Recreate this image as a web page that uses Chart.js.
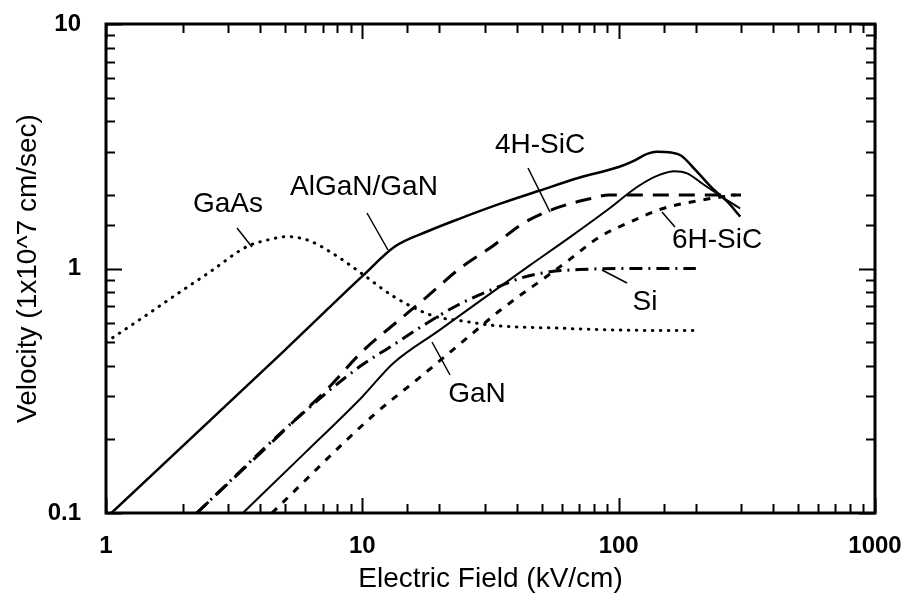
<!DOCTYPE html>
<html>
<head>
<meta charset="utf-8">
<script src="https://cdn.jsdelivr.net/npm/chart.js@4/dist/chart.umd.min.js"></script>
<style>
  html, body { margin: 0; padding: 0; background: #fff; }
  #wrap { width: 903px; height: 596px; }
</style>
</head>
<body>
<div id="wrap"><canvas id="c" width="903" height="596"></canvas></div>
<script>
// ---- data (Electric field kV/cm, velocity 1e7 cm/s) ----
const xTickLabels = [1, 10, 100, 1000];
const yTickLabels = [0.1, 1, 10];

const algan_x = [1.05, 5, 10, 13.4, 18, 24, 35, 49, 70, 100, 114, 130, 141, 160, 175, 200, 233, 265, 298];
const algan_v = [0.1, 0.465, 0.93, 1.23, 1.42, 1.6, 1.85, 2.08, 2.35, 2.6, 2.75, 2.95, 3.0, 2.98, 2.9, 2.52, 2.12, 1.88, 1.63];

const gan_x = [3.42, 6, 10, 13.2, 20, 30, 45, 65, 90, 120, 145, 165, 185, 215, 250, 298];
const gan_v = [0.1, 0.177, 0.299, 0.41, 0.56, 0.76, 1.03, 1.35, 1.73, 2.18, 2.42, 2.5, 2.45, 2.2, 1.98, 1.76];

const sic4h_x = [2.26, 5.56, 7.48, 10, 13.7, 17.9, 24, 32.4, 42.4, 56.5, 77.3, 92, 150, 300];
const sic4h_v = [0.1, 0.244, 0.33, 0.458, 0.607, 0.768, 1.0, 1.24, 1.53, 1.76, 1.93, 2.0, 2.0, 2.0];

const sic6h_x = [4.44, 11.0, 17.1, 26.3, 34.4, 54, 63, 84.6, 111, 149, 208, 285];
const sic6h_v = [0.1, 0.25, 0.365, 0.532, 0.673, 0.95, 1.07, 1.35, 1.55, 1.76, 1.9, 2.0];

const si_x = [2.26, 5.56, 9.8, 13.1, 17.3, 23.4, 32, 41, 54, 70, 100, 200];
const si_v = [0.1, 0.244, 0.398, 0.484, 0.585, 0.706, 0.82, 0.91, 0.97, 0.99, 1.0, 1.0];

const gaas_x = [1, 1.36, 1.94, 2.55, 3.55, 4.3, 5.08, 6.2, 7.69, 10, 13.2, 18.9, 24.7, 32.4, 59, 100, 202];
const gaas_v = [0.5, 0.62, 0.8, 0.97, 1.23, 1.31, 1.35, 1.3, 1.15, 0.95, 0.77, 0.64, 0.61, 0.585, 0.57, 0.56, 0.557];

// ---- annotation labels (pixel layout) ----
const labelTexts = ['GaAs', 'AlGaN/GaN', '4H-SiC', '6H-SiC', 'Si', 'GaN'];
const labelPos = [[228, 212], [364, 195], [540, 153], [717, 248], [645, 310], [477, 402]];
const leaders = [[237, 228, 252, 247], [367, 213, 388, 250], [528, 168, 550, 212], [662, 212, 675, 227], [602, 270, 627, 283], [432, 342, 450, 375]];

const FONT = "'Liberation Sans', Arial, sans-serif";
const pts = (xs, ys) => xs.map((x, i) => ({ x: x, y: ys[i] }));
const isPow10 = v => Math.abs(Math.log10(v) - Math.round(Math.log10(v))) < 1e-6;

function ds(label, xs, ys, width, dash, cap) {
  return {
    label, data: pts(xs, ys), borderColor: '#000', backgroundColor: '#000',
    borderWidth: width, borderDash: dash, borderCapStyle: cap || 'butt',
    pointRadius: 0, fill: false, cubicInterpolationMode: 'monotone'
  };
}

const framePlugin = {
  id: 'frame',
  afterDraw(chart) {
    const { ctx, chartArea: a, scales } = chart;
    ctx.save();
    ctx.strokeStyle = '#000';
    ctx.lineWidth = 2;
    // inward ticks
    scales.x.ticks.forEach(t => {
      const px = Math.round(scales.x.getPixelForValue(t.value)) + 0.5;
      const L = isPow10(t.value) ? 15 : 9;
      ctx.beginPath();
      ctx.moveTo(px, a.bottom); ctx.lineTo(px, a.bottom - L);
      ctx.moveTo(px, a.top); ctx.lineTo(px, a.top + L);
      ctx.stroke();
    });
    scales.y.ticks.forEach(t => {
      const py = Math.round(scales.y.getPixelForValue(t.value)) + 0.5;
      const L = isPow10(t.value) ? 16 : 9;
      ctx.beginPath();
      ctx.moveTo(a.left, py); ctx.lineTo(a.left + L, py);
      ctx.moveTo(a.right, py); ctx.lineTo(a.right - L, py);
      ctx.stroke();
    });
    ctx.lineWidth = 3;
    ctx.strokeRect(a.left, a.top, a.right - a.left, a.bottom - a.top);
    // labels
    ctx.fillStyle = '#000';
    ctx.font = '28px ' + FONT;
    ctx.textAlign = 'center';
    ctx.textBaseline = 'alphabetic';
    labelTexts.forEach((s, i) => ctx.fillText(s, labelPos[i][0], labelPos[i][1]));
    ctx.lineWidth = 1.5;
    leaders.forEach(l => {
      ctx.beginPath(); ctx.moveTo(l[0], l[1]); ctx.lineTo(l[2], l[3]); ctx.stroke();
    });
    ctx.restore();
  }
};

new Chart(document.getElementById('c'), {
  type: 'line',
  data: {
    datasets: [
      ds('AlGaN/GaN', algan_x, algan_v, 2.5, []),
      ds('GaN', gan_x, gan_v, 2, []),
      ds('4H-SiC', sic4h_x, sic4h_v, 3, [16, 10]),
      ds('6H-SiC', sic6h_x, sic6h_v, 3, [7, 8]),
      ds('Si', si_x, si_v, 3, [13, 6, 2, 6]),
      ds('GaAs', gaas_x, gaas_v, 3, [0.5, 7.5], 'round')
    ]
  },
  options: {
    responsive: false,
    animation: false,
    devicePixelRatio: 1,
    layout: { padding: { top: 24, right: 28, left: 0, bottom: 0 } },
    plugins: { legend: { display: false }, tooltip: { enabled: false } },
    scales: {
      x: {
        type: 'logarithmic', min: 1, max: 1000,
        grid: { display: false, drawTicks: false },
        border: { display: false },
        ticks: {
          autoSkip: false, maxRotation: 0, padding: 19, color: '#000',
          font: { family: FONT, size: 24, weight: 'bold' },
          callback: v => xTickLabels.some(t => Math.abs(t - v) / t < 1e-6) ? String(Math.round(v)) : ''
        },
        title: {
          display: true, text: 'Electric Field (kV/cm)', color: '#000',
          font: { family: FONT, size: 28 }, padding: { top: 0, bottom: 0 }
        },
        afterFit(s) { s.height = 83; s.paddingLeft = 0; s.paddingRight = 0; }
      },
      y: {
        type: 'logarithmic', min: 0.1, max: 10,
        grid: { display: false, drawTicks: false },
        border: { display: false },
        ticks: {
          autoSkip: false, padding: 25, color: '#000',
          font: { family: FONT, size: 24, weight: 'bold' },
          callback: v => yTickLabels.some(t => Math.abs(t - v) / t < 1e-6) ? String(+v.toPrecision(3)) : ''
        },
        title: {
          display: true, text: 'Velocity (1x10^7 cm/sec)', color: '#000',
          font: { family: FONT, size: 28 }, padding: { top: 11, bottom: 0 }
        },
        afterFit(s) { s.width = 106; s.paddingTop = 0; s.paddingBottom = 0; }
      }
    }
  },
  plugins: [framePlugin]
});
</script>
</body>
</html>
